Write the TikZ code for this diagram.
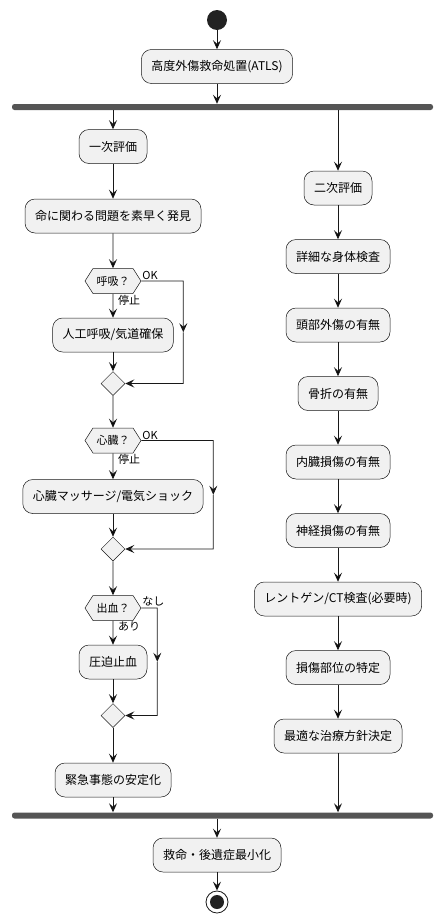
\documentclass[tikz,border=0pt]{standalone}
\usepackage{fontspec}
\setmainfont{Noto Sans CJK JP}
\usetikzlibrary{positioning, calc, arrows.meta, shapes.geometric, shapes.symbols}
\definecolor{actfill}{HTML}{F1F1F1}
\definecolor{actline}{HTML}{181818}
\definecolor{barfill}{HTML}{555555}
\definecolor{dotfill}{HTML}{222222}

\begin{document}
\begin{tikzpicture}[x=1pt, y=1pt, >={Stealth[length=9pt, width=8pt, inset=3.5pt]},
    flow/.style={->, line width=0.9pt, draw=actline},
    act/.style={draw=actline, line width=0.5pt, fill=actfill, rounded corners=10pt, minimum height=34pt, inner xsep=10pt, inner ysep=0pt, font=\fontsize{12}{14}\selectfont},
    test/.style={draw=actline, line width=0.5pt, fill=actfill, signal, signal to=west and east, signal pointer angle=115, minimum height=25pt, minimum width=56pt, inner xsep=2pt, inner ysep=0pt, font=\fontsize{11}{13}\selectfont},
    merge/.style={draw=actline, line width=0.5pt, fill=actfill, diamond, minimum width=24pt, minimum height=24pt, inner sep=0pt},
    bar/.style={fill=barfill, rounded corners=2.5pt, minimum width=421pt, minimum height=6pt, inner sep=0pt},
    lbl/.style={font=\fontsize{11}{13}\selectfont, inner sep=1pt}]
            \useasboundingbox (0,0) rectangle (444,-924);

            \node [circle, fill=dotfill, minimum size=20pt, inner sep=0pt] (start) at (217,-20) {};
            \node [act] (atls) at (217,-66.5) {高度外傷救命処置(ATLS)};
            \node [bar] (fork) at (222.5,-107) {};

            \node [act] (primary) at (113,-146.5) {一次評価};
            \node [act, below=35pt of primary] (find) {命に関わる問題を素早く発見};
            \node [test, below=35pt of find] (breath) {呼吸？};
            \node [act, below=24pt of breath] (airway) {人工呼吸/気道確保};
            \node [merge, below=19pt of airway] (m1) {};
            \node [test, below=32pt of m1] (heart) {心臓？};
            \node [act, below=26pt of heart] (cpr) {心臓マッサージ/電気ショック};
            \node [merge, below=23pt of cpr] (m2) {};
            \node [test, below=34pt of m2] (bleed) {出血？};
            \node [act, below=24pt of bleed] (press) {圧迫止血};
            \node [merge, below=24pt of press] (m3) {};
            \node [act, below=35pt of m3] (stable) {緊急事態の安定化};

            \node [act] (secondary) at (338,-188) {二次評価};
            \node [act, below=34pt of secondary] (exam) {詳細な身体検査};
            \node [act, below=34pt of exam] (head) {頭部外傷の有無};
            \node [act, below=34pt of head] (bone) {骨折の有無};
            \node [act, below=34pt of bone] (organ) {内臓損傷の有無};
            \node [act, below=34pt of organ] (nerve) {神経損傷の有無};
            \node [act, below=34pt of nerve] (xray) {レントゲン/CT検査(必要時)};
            \node [act, below=34pt of xray] (site) {損傷部位の特定};
            \node [act, below=34pt of site] (plan) {最適な治療方針決定};

            \node [bar] (join) at (222.5,-815.5) {};
            \node [act] (goal) at (217,-855) {救命・後遺症最小化};
            \node [circle, draw=actline, line width=0.8pt, fill=white, minimum size=22pt, inner sep=0pt] (stop) at (217,-902) {};
            \node [circle, fill=dotfill, minimum size=14pt, inner sep=0pt] at (stop) {};

            \node [lbl, anchor=south west] (ok1) at (breath.east) {OK};
            \node [lbl, below right=0pt and 4pt of breath.south] (no1) {停止};
            \node [lbl, anchor=south west] (ok2) at (heart.east) {OK};
            \node [lbl, below right=0pt and 4pt of heart.south] (no2) {停止};
            \node [lbl, anchor=south west] (ok3) at ([yshift=1pt] bleed.east) {なし};
            \node [lbl, below right=0pt and 4pt of bleed.south] (no3) {あり};

            \coordinate [right=42pt of breath.east] (b1);
            \coordinate (b1end) at (b1 |- m1);
            \coordinate [right=72pt of heart.east] (b2);
            \coordinate (b2end) at (b2 |- m2);
            \coordinate [right=16pt of bleed.east] (b3);
            \coordinate (b3end) at (b3 |- m3);

            \path [flow] (start) edge (atls)
            (primary) edge (find)
            (find) edge (breath)
            (breath) edge (airway)
            (airway) edge (m1)
            (m1) edge (heart)
            (heart) edge (cpr)
            (cpr) edge (m2)
            (m2) edge (bleed)
            (bleed) edge (press)
            (press) edge (m3)
            (m3) edge (stable)
            (secondary) edge (exam)
            (exam) edge (head)
            (head) edge (bone)
            (bone) edge (organ)
            (organ) edge (nerve)
            (nerve) edge (xray)
            (xray) edge (site)
            (site) edge (plan)
            (goal) edge (stop);

            \draw [flow] (atls.south) -- (atls.south |- fork.north);
            \draw [flow] (primary.north |- fork.south) -- (primary.north);
            \draw [flow] (secondary.north |- fork.south) -- (secondary.north);
            \draw [flow] (stable.south) -- (stable.south |- join.north);
            \draw [flow] (plan.south) -- (plan.south |- join.north);
            \draw [flow] (goal.north |- join.south) -- (goal.north);

            \draw [flow] (breath.east) -- (b1) -- ($(b1)!.5!(b1end)$);
            \draw [flow] ($(b1)!.5!(b1end)$) -- (b1end) -- (m1.east);
            \draw [flow] (heart.east) -- (b2) -- ($(b2)!.5!(b2end)$);
            \draw [flow] ($(b2)!.5!(b2end)$) -- (b2end) -- (m2.east);
            \draw [flow] (bleed.east) -- (b3) -- ($(b3)!.5!(b3end)$);
            \draw [flow] ($(b3)!.5!(b3end)$) -- (b3end) -- (m3.east);
          \end{tikzpicture}
\end{document}
